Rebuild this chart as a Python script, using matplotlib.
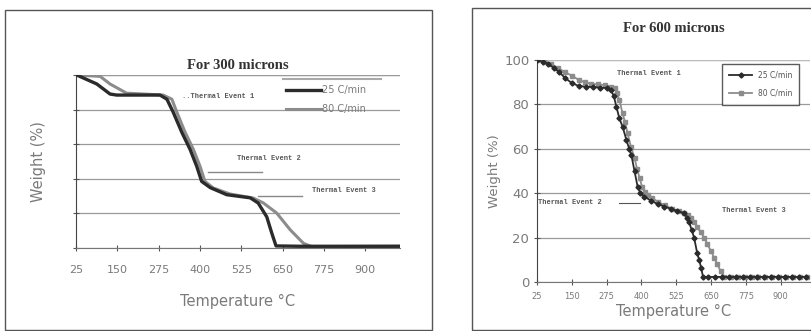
"""TGA curves, two particle sizes, side by side"""

import matplotlib
matplotlib.use("Agg")
import matplotlib.pyplot as plt
from matplotlib.patches import Rectangle
from matplotlib.lines import Line2D

# --- 300 microns (left panel) ---
t300_25 = [27, 88, 128, 148, 279, 300, 319, 345, 370, 390, 405, 431, 481,
           552, 576, 602, 617, 630, 703, 1000]
w300_25 = [100, 94.8, 89, 88.4, 88.4, 86, 78.5, 66.9, 57, 47.3, 38.5, 34.9,
           30.8, 29, 26, 18, 8.7, 1.2, 1, 1]
t300_80 = [27, 98, 128, 178, 289, 315, 330, 355, 380, 400, 415, 440, 491,
           561, 592, 632, 673, 713, 738, 1000]
w300_80 = [100, 99.2, 94.8, 89.5, 88.4, 86, 78.5, 66.9, 57, 47.3, 38.5, 34.7,
           31.2, 28.9, 26, 20.2, 10.5, 2.7, 0.8, 1]

# --- 600 microns (right panel) ---
t600_25 = [25, 45, 65, 85, 105, 125, 150, 175, 200, 225, 250, 275, 290, 300,
           310, 320, 332, 346, 356, 364, 375, 386, 396, 410, 436, 460, 482,
           505, 529, 554, 563, 571, 580, 589, 600, 607, 614, 621, 640, 665,
           690, 715, 740, 765, 790, 815, 840, 865, 890, 915, 940, 965, 990]
w600_25 = [100, 99.2, 98.2, 96.5, 94.5, 92, 89.6, 88.3, 88, 87.8, 87.6, 87.4,
           86.5, 84, 79, 74, 70, 64, 60, 57, 50, 43, 40, 38.5, 36.5, 35, 34,
           33, 32, 31, 29, 27, 23.5, 20, 13, 10, 6.5, 2.3, 2.3, 2.3,
           2.3, 2.3, 2.3, 2.3, 2.3, 2.3, 2.3, 2.3, 2.3, 2.3, 2.3, 2.3, 2.3]
t600_80 = [25, 50, 75, 100, 125, 150, 175, 196, 220, 245, 268, 290, 304, 312,
           321, 332, 341, 350, 362, 375, 384, 393, 402, 411, 425, 439, 460,
           485, 510, 535, 554, 567, 579, 590, 600, 612, 625, 637, 649, 661,
           672, 684, 696, 720, 745, 770, 795, 820, 845, 870, 895, 920, 945,
           970, 995]
w600_80 = [100, 99.5, 98.2, 96.5, 94.5, 93, 91, 90, 89.3, 89, 88.7, 88, 87.4,
           85, 82, 76, 72, 67, 61, 56, 51, 47, 43, 40.5, 39, 37.8, 36, 34.5,
           33, 32, 31, 30, 29, 27, 25, 22.5, 20, 17, 14, 11, 8, 5, 2.3, 2.3,
           2.3, 2.3, 2.3, 2.3, 2.3, 2.3, 2.3, 2.3, 2.3, 2.3, 2.3]

xticks = [25, 150, 275, 400, 525, 650, 775, 900]
yticks = [0, 20, 40, 60, 80, 100]

DARK = "#2b2b2b"
GRAY = "#8c8c8c"
TXT = "#7a7a7a"

W, H = 811, 331
fig = plt.figure(figsize=(W / 100, H / 100), dpi=100)


def px(x0, y0, x1, y1):
    """pixel box (top-left origin) -> figure fraction rect"""
    return [x0 / W, 1 - y1 / H, (x1 - x0) / W, (y1 - y0) / H]


# chart frames
for box in (px(5, 10, 432, 330), px(472, 8, 815, 330)):
    fig.add_artist(Rectangle((box[0], box[1]), box[2], box[3],
                             transform=fig.transFigure, fill=False,
                             edgecolor="#555555", lw=1.0))


def style(ax, show_y):
    ax.set_xlim(25, 1005)
    ax.set_ylim(0, 100)
    ax.set_xticks(xticks)
    ax.set_yticks(yticks)
    ax.grid(axis="y", color="#9a9a9a", lw=0.9)
    ax.set_axisbelow(True)
    for s in ("top", "right"):
        ax.spines[s].set_visible(False)
    ax.spines["left"].set_color("#444444")
    ax.spines["bottom"].set_color("#777777")
    ax.tick_params(direction="inout", length=4, colors="#555555",
                   labelcolor=TXT)
    if not show_y:
        ax.set_yticklabels([])


# ---------------- left: 300 microns ----------------
ax1 = fig.add_axes(px(76, 75, 400, 248))
style(ax1, False)
ax1.axhline(100, color="#9a9a9a", lw=0.9)
ax1.plot(t300_80, w300_80, color=GRAY, lw=2.2, label="80 C/min", zorder=3)
ax1.plot(t300_25, w300_25, color=DARK, lw=2.4, label="25 C/min", zorder=4)
ax1.tick_params(axis="x", labelsize=8, pad=10)
ax1.set_title("For 300 microns", fontsize=10.5, fontweight="bold",
              family="Liberation Serif", color="#333333", pad=4)
ax1.set_xlabel("Temperature °C", fontsize=10.5, color=TXT, labelpad=14)
ax1.set_ylabel("Weight (%)", fontsize=10.5, color=TXT, labelpad=16)

h, l = ax1.get_legend_handles_labels()
ax1.legend(h[::-1], l[::-1], loc="upper left", bbox_to_anchor=(0.62, 0.99),
           frameon=False, fontsize=7, handlelength=3.6, handletextpad=0.1,
           labelspacing=0.9, labelcolor=TXT)
ax1.add_line(Line2D([0.64, 0.94], [0.977, 0.977], transform=ax1.transAxes,
                    color="#aaaaaa", lw=1.5))

note = dict(fontsize=5, family="Liberation Mono", fontweight="bold",
            color="#555555", va="center")
ax1.text(345, 87.5, "..Thermal Event 1", **note)
ax1.text(512, 51.5, "Thermal Event 2", **note)
ax1.text(739, 33, "Thermal Event 3", **note)
ax1.plot([425, 588], [44, 44], color="#888888", lw=1)
ax1.plot([576, 709], [30, 30], color="#888888", lw=1)

# ---------------- right: 600 microns ----------------
ax2 = fig.add_axes(px(537, 60, 810, 282))
style(ax2, True)
ax2.axhline(100, color="#bbbbbb", lw=0.9)
ax2.plot(t600_80, w600_80, color=GRAY, lw=1.3, marker="s", ms=2.6,
         label="80 C/min", zorder=3)
ax2.plot(t600_25, w600_25, color=DARK, lw=1.3, marker="D", ms=2.6,
         label="25 C/min", zorder=4)
ax2.tick_params(axis="x", labelsize=6, pad=5)
ax2.tick_params(axis="y", labelsize=9.5)
ax2.set_title("For 600 microns", fontsize=10.5, fontweight="bold",
              family="Liberation Serif", color="#333333", pad=20)
ax2.set_xlabel("Temperature °C", fontsize=10.5, color=TXT, labelpad=2)
ax2.set_ylabel("Weight (%)", fontsize=9.5, color=TXT, labelpad=2)

h, l = ax2.get_legend_handles_labels()
leg = ax2.legend(h[::-1], l[::-1], loc="upper right",
                 bbox_to_anchor=(0.975, 1.0), fontsize=5.5, handlelength=3,
                 labelcolor="#555555", fancybox=False, borderpad=0.9,
                 labelspacing=1.2)
leg.get_frame().set_edgecolor("#333333")
leg.get_frame().set_linewidth(1.0)

ax2.text(311, 93.7, "Thermal Event 1", **note)
ax2.text(30, 35.6, "Thermal Event 2", **note)
ax2.plot([321, 393], [35.6, 35.6], color="#555555", lw=0.8)
ax2.text(689, 32, "Thermal Event 3", **note)

fig.savefig("out.png", dpi=100)
